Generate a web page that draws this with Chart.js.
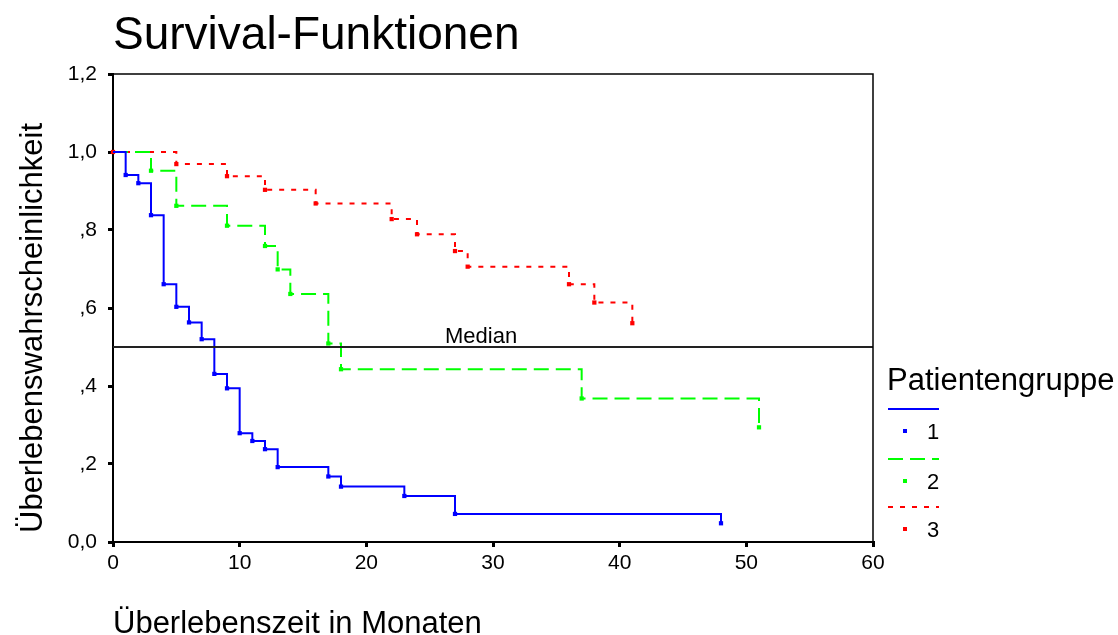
<!DOCTYPE html>
<html>
<head>
<meta charset="utf-8">
<script src="https://cdn.jsdelivr.net/npm/chart.js@4/dist/chart.umd.min.js"></script>
<style>
  body { margin: 0; background: #fff; }
  canvas { display: block; }
</style>
</head>
<body>
<canvas id="myChart" width="1118" height="635"></canvas>
<script>
'use strict';

// survival data (months, survival probability)
let group1Months = [0, 1, 2, 3, 4, 5, 6, 7, 8, 9, 10, 11, 12, 13, 17, 18, 23, 27, 48];
let group1Surv = [1.0, 0.941, 0.92, 0.838, 0.661, 0.603, 0.563, 0.52, 0.431, 0.394, 0.279, 0.259, 0.238, 0.192, 0.168, 0.142, 0.118, 0.072, 0.048];

let group2Months = [0, 3, 5, 9, 12, 13, 14, 17, 18, 37, 51];
let group2Surv = [1.0, 0.952, 0.862, 0.811, 0.759, 0.699, 0.636, 0.509, 0.443, 0.368, 0.294];

let group3Months = [0, 5, 9, 12, 16, 22, 24, 27, 28, 36, 38, 41];
let group3Surv = [1.0, 0.969, 0.938, 0.903, 0.868, 0.828, 0.789, 0.746, 0.706, 0.661, 0.614, 0.561];

let groupNames = ['1', '2', '3'];
let medianValue = 0.5;
let xRange = [0, 60];

let yTickValues = [0, 0.2, 0.4, 0.6, 0.8, 1.0, 1.2];
let yTickLabels = ['0,0', ',2', ',4', ',6', ',8', '1,0', '1,2'];

let colors = ['#0000ff', '#00ff00', '#ff0000'];
let dashes = [[], [15, 7], [5, 7]];
let fontFam = '"Liberation Sans", Arial, sans-serif';

function toPoints(months, surv) {
    let pts = [];
    for (let i = 0; i < months.length; i++) {
        pts.push({ x: months[i], y: surv[i] });
    }
    return pts;
}

function makeSet(label, months, surv, i) {
    return {
        label: label,
        data: toPoints(months, surv),
        showLine: true,
        stepped: 'before',
        borderColor: colors[i],
        backgroundColor: colors[i],
        borderWidth: 2,
        borderDash: dashes[i],
        pointStyle: 'rect',
        pointRadius: function (ctx) { return (ctx.dataIndex === 0 && i !== 2) ? 0 : 3; },
        pointBorderWidth: 0,
        clip: 6
    };
}

// title, frame, y title, median label and the legend
let extras = {
    id: 'extras',
    afterDraw(chart) {
        let ctx = chart.ctx;
        let a = chart.chartArea;
        ctx.save();
        ctx.strokeStyle = '#000';
        ctx.lineWidth = 1.5;
        ctx.beginPath();
        ctx.moveTo(a.left, a.top);
        ctx.lineTo(a.right, a.top);
        ctx.lineTo(a.right, a.bottom);
        ctx.stroke();

        ctx.fillStyle = '#000';
        ctx.textBaseline = 'alphabetic';
        ctx.textAlign = 'left';
        ctx.font = '46px ' + fontFam;
        ctx.fillText('Survival-Funktionen', 113, 49);

        // y axis title
        ctx.save();
        ctx.translate(42, 533);
        ctx.rotate(-Math.PI / 2);
        ctx.font = '31px ' + fontFam;
        ctx.fillText('Überlebenswahrscheinlichkeit', 0, 0);
        ctx.restore();

        let my = chart.scales.y.getPixelForValue(medianValue);
        ctx.font = '22px ' + fontFam;
        ctx.fillText('Median', a.left + 332, my - 4);

        ctx.textBaseline = 'middle';
        ctx.font = '31px ' + fontFam;
        ctx.fillText('Patientengruppe', 887, 381);

        let lineY = [409, 459, 507];
        ctx.font = '22px ' + fontFam;
        for (let i = 0; i < groupNames.length; i++) {
            ctx.strokeStyle = colors[i];
            ctx.lineWidth = 2;
            ctx.setLineDash(dashes[i]);
            ctx.beginPath();
            ctx.moveTo(888, lineY[i]);
            ctx.lineTo(939, lineY[i]);
            ctx.stroke();
            ctx.setLineDash([]);
            ctx.fillStyle = colors[i];
            ctx.fillRect(903, lineY[i] + 20, 4, 4);
            ctx.fillStyle = '#000';
            ctx.fillText(groupNames[i], 927, lineY[i] + 24);
        }
        ctx.restore();
    }
};

let chart = new Chart(document.getElementById('myChart').getContext('2d'), {
    type: 'scatter',
    data: {
        datasets: [
            {
                label: 'Median',
                data: [{ x: xRange[0], y: medianValue }, { x: xRange[1], y: medianValue }],
                showLine: true,
                borderColor: '#222',
                borderWidth: 2,
                pointRadius: 0
            },
            makeSet(groupNames[0], group1Months, group1Surv, 0),
            makeSet(groupNames[1], group2Months, group2Surv, 1),
            makeSet(groupNames[2], group3Months, group3Surv, 2)
        ]
    },
    options: {
        responsive: false,
        animation: false,
        layout: { padding: { left: 0, right: 245, top: 74, bottom: 0 } },
        plugins: { legend: { display: false }, tooltip: { enabled: false } },
        scales: {
            x: {
                type: 'linear',
                min: xRange[0],
                max: xRange[1],
                afterFit: function (s) { s.height = 93; },
                ticks: {
                    stepSize: 10,
                    color: '#000',
                    padding: 4,
                    font: { family: fontFam, size: 21 }
                },
                grid: { drawOnChartArea: false, color: '#000', tickLength: 5, lineWidth: 3 },
                border: { color: '#000', width: 2 },
                title: {
                    display: true,
                    text: 'Überlebenszeit in Monaten',
                    align: 'start',
                    color: '#000',
                    padding: 0,
                    font: { family: fontFam, size: 31, lineHeight: 0.7 }
                }
            },
            y: {
                min: 0,
                max: 1.2,
                afterFit: function (s) { s.width = 113; },
                afterBuildTicks: function (s) {
                    s.ticks = yTickValues.map(function (v) { return { value: v }; });
                },
                ticks: {
                    color: '#000',
                    padding: 11,
                    font: { family: fontFam, size: 21 },
                    callback: function (v, i) { return yTickLabels[i]; }
                },
                grid: { drawOnChartArea: false, color: '#000', tickLength: 5, lineWidth: 3 },
                border: { color: '#000', width: 2 }
            }
        }
    },
    plugins: [extras]
});
</script>
</body>
</html>
